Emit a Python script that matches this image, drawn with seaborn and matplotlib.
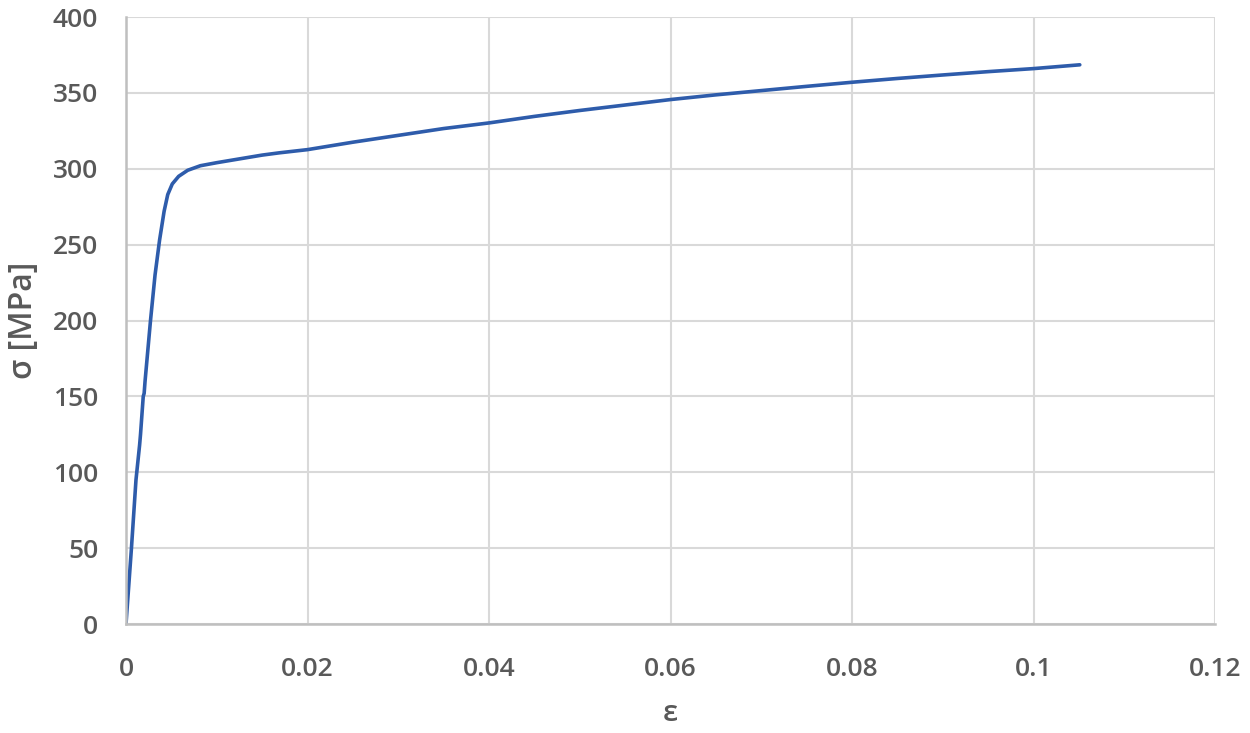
import matplotlib
matplotlib.use("Agg")
import matplotlib.pyplot as plt
import numpy as np
import pandas as pd
import seaborn as sns

# values
strain = [0, 0.0006, 0.0011, 0.0015, 0.0016, 0.0019, 0.0020, 0.0021, 0.0027,
          0.0032, 0.0037, 0.0042, 0.0046, 0.0051, 0.0058, 0.0068, 0.0082,
          0.010, 0.012, 0.015, 0.0169, 0.020, 0.025, 0.030, 0.035, 0.040,
          0.045, 0.050, 0.055, 0.060, 0.065, 0.070, 0.075, 0.080, 0.085,
          0.090, 0.095, 0.100, 0.1051]
stress = [0, 50, 95, 118, 125, 150, 152, 160, 200,
          230, 253, 272, 283, 290, 295, 299, 302,
          304, 306, 309, 310.5, 312.6, 317.5, 322, 326.5, 330.2,
          334.5, 338.4, 342, 345.6, 348.7, 351.5, 354.3, 357, 359.5,
          361.8, 364, 366, 368.5]

x_ticks = [0, 0.02, 0.04, 0.06, 0.08, 0.1, 0.12]
x_tick_labels = ["0", "0.02", "0.04", "0.06", "0.08", "0.1", "0.12"]
y_ticks = [0, 50, 100, 150, 200, 250, 300, 350, 400]

df = pd.DataFrame({"strain": strain, "stress": stress})

sns.set_theme(style="whitegrid")
plt.rcParams['font.family'] = ['Open Sans', 'DejaVu Sans']

text_gray = "#595959"

fig = plt.figure(figsize=(12.5, 7.33), dpi=100)
ax = fig.add_axes([0.1008, 0.1487, 0.8712, 0.8281])

sns.lineplot(data=df, x="strain", y="stress", ax=ax, color="#2E5CAB",
             linewidth=2.6, sort=False)

ax.set_xlim(0, 0.12)
ax.set_ylim(0, 400)
ax.set_xticks(x_ticks)
ax.set_xticklabels(x_tick_labels)
ax.set_yticks(y_ticks)

ax.grid(True, color="#d9d9d9", linewidth=1.5)
for side in ["top", "right"]:
    ax.spines[side].set_visible(False)
for side in ["left", "bottom"]:
    ax.spines[side].set_color("#bfbfbf")
    ax.spines[side].set_linewidth(1.8)

ax.tick_params(axis="both", length=0, labelsize=19, labelcolor=text_gray)
ax.tick_params(axis="y", pad=20)
ax.tick_params(axis="x", pad=24)
for lbl in ax.get_xticklabels() + ax.get_yticklabels():
    lbl.set_fontweight("semibold")

ax.set_xlabel("ε", fontsize=21, color=text_gray, fontweight="semibold", labelpad=12)
ax.set_ylabel("σ [MPa]", fontsize=23, color=text_gray, fontweight="semibold", labelpad=9)

fig.savefig("out.png", dpi=100)
